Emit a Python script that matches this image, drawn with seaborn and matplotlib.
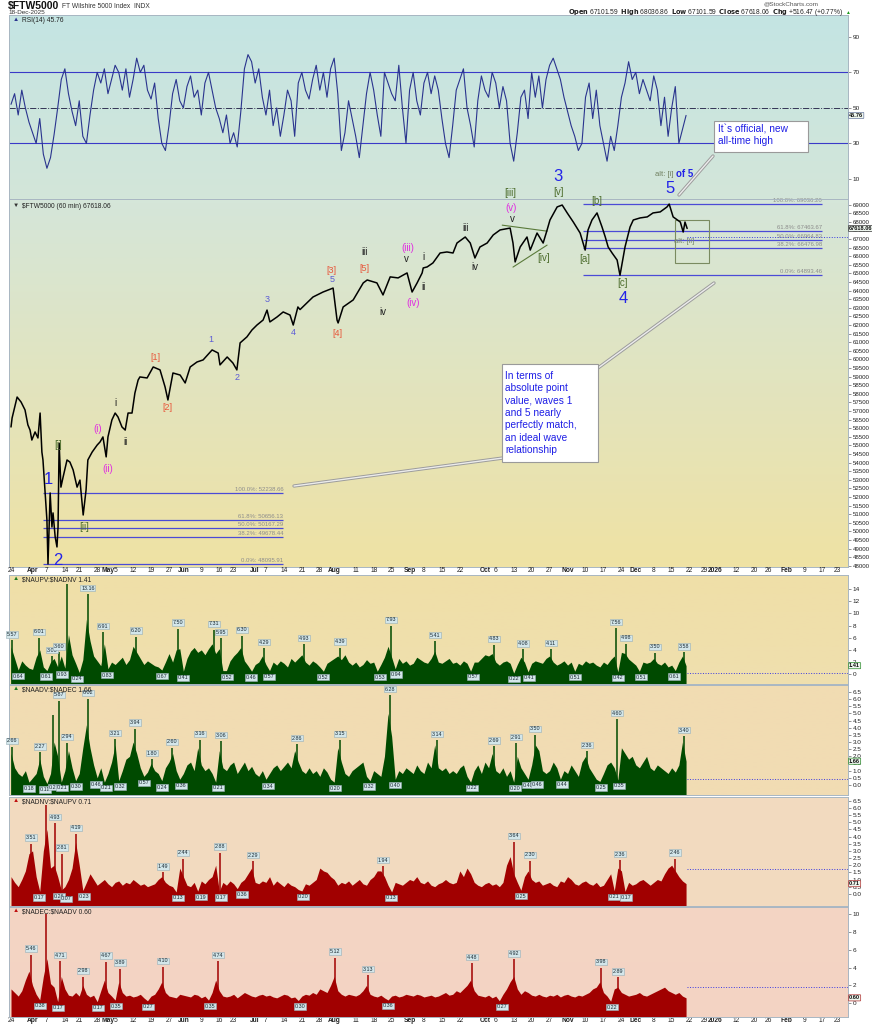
import numpy as np
import pandas as pd
import seaborn as sns
import matplotlib.pyplot as plt
from matplotlib.colors import LinearSegmentedColormap
from matplotlib.patches import Rectangle
from matplotlib.lines import Line2D
from matplotlib.ticker import FormatStrFormatter
from matplotlib.transforms import blended_transform_factory

sns.set_style('white')
plt.rcParams['font.family'] = ['Liberation Sans', 'DejaVu Sans']

# ---------------- data (x = trading day, 0 = 24 Mar 2025) ----------------
holidays = ['2025-04-18', '2025-05-26', '2025-06-19', '2025-07-04', '2025-09-01',
            '2025-11-27', '2025-12-25', '2026-01-01', '2026-01-19', '2026-02-16']

px_day = [0.0, 0.3, 1.7, 2.8, 3.9, 4.7, 5.3, 5.8, 6.7, 7.5,
          8.1, 8.6, 8.9, 9.5, 10.0, 10.3, 10.9, 11.4, 11.7, 12.3,
          12.8, 13.1, 13.4, 13.9, 14.5, 15.6, 16.4, 17.3, 18.4, 19.2,
          20.1, 20.9, 21.4, 22.6, 24.0, 24.8, 25.6, 26.5, 27.0, 28.1,
          29.0, 29.8, 30.9, 31.8, 32.6, 33.7, 34.5, 35.4, 35.9, 37.9,
          39.6, 41.5, 42.9, 43.7, 45.1, 47.1, 48.5, 49.9, 51.8, 53.5,
          56.0, 57.7, 58.2, 60.2, 61.8, 62.9, 63.8, 65.7, 67.1, 68.5,
          70.2, 71.3, 72.1, 74.1, 75.8, 77.7, 78.6, 79.9, 80.5, 84.1,
          86.9, 89.7, 90.8, 91.1, 92.5, 95.3, 98.1, 99.2, 101.9, 103.6,
          105.6, 107.8, 110.3, 111.7, 113.1, 114.5, 114.8, 115.9, 117.5, 119.5,
          121.4, 123.1, 124.2, 126.5, 127.9, 129.2, 130.6, 132.6, 134.3, 136.2,
          139.0, 139.8, 140.4, 141.8, 143.7, 144.6, 146.5, 148.2, 149.3, 150.1,
          152.1, 153.5, 154.9, 156.6, 158.5, 159.9, 160.7, 161.8, 163.2, 164.6,
          165.5, 166.3, 167.4, 168.8, 169.6, 171.0, 172.4, 173.3, 175.2, 177.2,
          178.8, 180.8, 182.7, 183.3, 184.4, 186.4, 187.2, 187.7, 188.3]
px_val = [56070, 56590, 57810, 57520, 57060, 56190, 55890, 55310, 55780, 55430,
          56880, 54610, 54150, 52230, 50660, 48100, 52230, 50250, 51070, 49670,
          49090, 50250, 55130, 52570, 53150, 54150, 54030, 53570, 52570, 52980,
          50950, 52400, 54150, 54610, 55020, 55200, 55490, 54330, 55490, 56480,
          56880, 56650, 56070, 55890, 56880, 56880, 58040, 58800, 58980, 58920,
          59560, 59390, 58400, 57640, 59210, 59090, 58630, 59560, 59850, 59970,
          60550, 60370, 59680, 60140, 59790, 59390, 60960, 61310, 61710, 62000,
          62290, 62870, 62180, 62470, 62760, 62580, 62000, 63050, 62900, 63630,
          63920, 64150, 62290, 62120, 63050, 63460, 64450, 64620, 64450, 63750,
          64800, 64740, 65030, 63920, 64450, 65030, 65320, 65380, 65610, 66190,
          66250, 66190, 66770, 67120, 66770, 65900, 66540, 66770, 67240, 67530,
          67640, 66770, 65670, 66540, 67120, 66360, 67350, 66770, 67530, 68110,
          68870, 68980, 68520, 67990, 67350, 66360, 67530, 68110, 68520, 67700,
          67120, 66540, 66190, 65780, 64893, 66540, 67700, 68110, 68230, 68290,
          68520, 68580, 68870, 69036, 68290, 67990, 67410, 67990, 67618]

rsi_vals = [52, 58, 46, 60, 50, 42, 36, 30, 44, 24,
            16, 22, 35, 50, 66, 72, 58, 48, 40, 54,
            34, 30, 46, 60, 70, 64, 72, 58, 66, 74,
            70, 60, 72, 56, 66, 78, 70, 74, 60, 55,
            64, 44, 30, 26, 40, 58, 66, 54, 50, 62,
            68, 56, 60, 46, 64, 70, 60, 50, 44, 36,
            46, 30, 36, 28, 48, 72, 80, 76, 64, 72,
            56, 46, 60, 40, 50, 34, 46, 60, 54, 34,
            64, 70, 60, 55, 66, 74, 60, 70, 56, 72,
            78, 58, 26, 36, 54, 44, 34, 22, 40, 58,
            70, 60, 46, 34, 70, 64, 58, 54, 74, 50,
            30, 60, 70, 54, 46, 64, 70, 58, 68, 60,
            44, 30, 22, 40, 60, 66, 72, 50, 40, 28,
            54, 68, 60, 56, 70, 64, 50, 62, 54, 30,
            20, 36, 56, 60, 44, 70, 56, 68, 50, 66,
            74, 78, 72, 66, 56, 48, 40, 34, 26, 30,
            56, 64, 44, 60, 40, 30, 20, 34, 26, 40,
            56, 64, 76, 66, 70, 58, 66, 60, 54, 68,
            60, 40, 56, 34, 50, 62, 30, 38, 45.76]

fib_pct = ['100.0%', '61.8%', '50.0%', '38.2%', '0.0%']
fib_low = [52238.66, 50656.13, 50167.29, 49678.44, 48095.91]
fib_high = [69036.20, 67463.67, 66964.83, 66476.98, 64893.46]

# $NAUPV:$NADNV
upv_vals = [4.5, 2.6, 0.7, 2.2, 1.5, 1.0, 0.8, 2.8, 4.0, 1.2,
            0.6, 2.0, 2.6, 1.2, 3.0, 1.0, 6.5, 3.2, 1.8, 0.3,
            2.4, 9.0, 5.5, 3.0, 2.2, 1.4, 5.0, 0.9, 2.0, 1.6,
            2.2, 2.8, 1.6, 2.4, 4.6, 3.6, 2.6, 1.6, 2.2, 1.8,
            1.4, 1.2, 0.7, 2.0, 3.4, 2.0, 4.0, 4.2, 0.5, 2.6,
            3.8, 4.4, 3.6, 4.0, 3.2, 4.2, 5.0, 3.4, 4.2, 0.6,
            0.6, 2.2, 3.0, 3.6, 4.4, 2.2, 1.4, 0.5, 1.6, 2.0,
            3.0, 1.6, 0.6, 2.0, 1.5, 2.2, 1.8, 1.2, 2.6, 2.0,
            2.6, 3.2, 2.0, 1.5, 2.2, 1.8, 1.2, 0.5, 1.8, 2.2,
            2.6, 3.0, 2.4, 3.2, 2.0, 1.5, 2.0, 1.2, 1.6, 2.4,
            1.8, 2.0, 0.5, 1.6, 2.8, 4.6, 2.8, 0.9, 2.6, 1.8,
            2.2, 1.5, 1.8, 2.8, 2.4, 2.0, 1.8, 2.6, 3.8, 2.0,
            1.8, 2.2, 2.6, 1.8, 2.0, 1.5, 2.2, 1.8, 0.5, 2.0,
            2.0, 2.6, 3.2, 3.0, 3.4, 2.0, 1.5, 2.0, 2.2, 1.8,
            0.2, 1.6, 2.8, 2.0, 0.4, 1.8, 2.2, 2.0, 1.8, 2.6,
            3.0, 2.0, 1.5, 1.8, 2.2, 1.5, 2.0, 0.5, 1.8, 1.5,
            2.2, 1.8, 2.0, 1.5, 1.2, 2.0, 1.6, 2.4, 3.0, 0.4,
            3.6, 3.4, 2.5, 2.0, 1.5, 0.5, 2.0, 1.8, 2.0, 2.6,
            1.8, 1.5, 2.0, 1.2, 1.5, 0.6, 2.0, 3.0, 1.4]
upv_pk_day = [0.3, 7.8, 11.4, 13.4, 21.4, 25.6, 34.8, 46.5, 56.5, 58.5, 64.3, 70.5,
              81.6, 91.6, 105.8, 118.1, 134.5, 142.6, 150.4, 168.5, 171.3, 179.4, 187.5]
upv_pk_val = [5.57, 6.01, 3.00, 3.60, 13.16, 6.91, 6.20, 7.50, 7.31, 5.95, 6.30, 4.29,
              4.93, 4.39, 7.93, 5.41, 4.83, 4.08, 4.11, 7.56, 4.98, 3.50, 3.58]
upv_tr_day = [1.9, 9.7, 14.2, 18.4, 26.7, 42.1, 47.9, 60.2, 66.9, 71.9, 86.9, 102.8,
              107.2, 128.7, 140.1, 144.3, 157.1, 169.1, 175.5, 184.7]
upv_tr_val = [0.64, 0.61, 0.93, 0.24, 0.83, 0.67, 0.41, 0.52, 0.46, 0.57, 0.52, 0.53,
              0.94, 0.57, 0.22, 0.41, 0.51, 0.42, 0.51, 0.61]
upv_spike_day = [15.6]
upv_spike_val = [14.8]

# $NAADV:$NADEC
adv_vals = [2.2, 1.2, 0.8, 0.6, 1.0, 0.2, 0.5, 0.8, 1.8, 0.6,
            0.1, 0.8, 3.0, 2.0, 0.2, 1.0, 2.4, 1.2, 0.3, 0.8,
            2.6, 4.2, 2.6, 1.4, 0.5, 1.2, 0.2, 0.8, 1.6, 2.8,
            0.3, 1.0, 1.8, 2.0, 3.0, 2.2, 1.2, 0.6, 0.9, 1.5,
            1.0, 0.8, 0.3, 1.2, 1.6, 2.2, 1.0, 0.4, 0.8, 1.4,
            1.6, 1.0, 2.6, 1.4, 1.0, 1.2, 0.8, 0.2, 2.4, 1.2,
            1.0, 1.4, 1.6, 0.8, 1.2, 1.6, 1.0, 1.3, 0.8, 0.6,
            1.0, 0.4, 0.8, 1.2, 1.4, 1.0, 1.3, 1.6, 1.2, 2.4,
            1.6, 1.0, 0.8, 1.2, 0.8, 1.0, 0.6, 1.2, 0.9, 0.4,
            0.2, 2.6, 1.6, 0.8, 0.6, 1.0, 1.2, 1.4, 1.6, 0.6,
            0.3, 1.0, 0.8, 0.6, 2.0, 5.0, 3.4, 0.4, 1.0, 0.8,
            1.2, 1.0, 0.8, 1.4, 1.0, 0.8, 1.6, 1.2, 2.8, 1.2,
            1.0, 1.2, 0.8, 1.0, 0.8, 1.2, 1.4, 0.6, 0.2, 1.0,
            1.4, 0.8, 1.6, 1.2, 2.2, 1.0, 0.8, 1.2, 0.6, 1.0,
            0.2, 2.0, 1.2, 0.8, 0.4, 1.4, 2.8, 2.4, 1.0, 0.8,
            1.0, 1.6, 1.2, 0.4, 1.0, 0.8, 1.4, 1.0, 0.6, 1.6,
            2.0, 1.2, 0.8, 0.4, 0.25, 0.8, 1.4, 1.6, 1.2, 0.35,
            2.6, 2.2, 1.8, 2.0, 1.4, 1.2, 1.6, 2.0, 1.2, 1.0,
            1.4, 1.2, 1.0, 0.8, 1.2, 0.9, 1.4, 3.0, 1.66]
adv_pk_day = [0.3, 8.1, 13.4, 15.6, 21.4, 29.0, 34.5, 39.3, 44.8, 52.6, 58.5, 79.7,
              91.6, 105.6, 118.7, 134.5, 140.7, 146.0, 160.4, 168.8, 187.5]
adv_pk_val = [2.66, 2.27, 5.87, 2.94, 6.02, 3.21, 3.94, 1.80, 2.60, 3.16, 3.06, 2.86,
              3.15, 6.28, 3.14, 2.69, 2.91, 3.50, 2.36, 4.60, 3.40]
adv_tr_day = [5.0, 9.5, 12.0, 14.2, 18.1, 23.7, 26.5, 30.4, 37.0, 42.1, 47.4, 57.7,
              71.6, 90.3, 99.7, 107.0, 128.4, 140.4, 144.0, 146.5, 153.5, 164.3, 169.4]
adv_tr_val = [0.18, 0.11, 0.27, 0.21, 0.30, 0.46, 0.21, 0.32, 0.57, 0.24, 0.36, 0.21,
              0.34, 0.20, 0.32, 0.40, 0.22, 0.20, 0.40, 0.46, 0.44, 0.25, 0.35]
adv_spike_day = [11.7]
adv_spike_val = [4.9]

# $NADNV:$NAUPV
dnv_vals = [1.2, 0.8, 0.5, 1.0, 1.6, 2.8, 3.0, 1.2, 0.17, 3.0,
            4.5, 1.8, 2.0, 1.2, 0.26, 0.5, 1.0, 1.8, 3.6, 2.0,
            0.23, 0.8, 1.4, 1.0, 0.6, 0.8, 1.0, 0.7, 0.5, 0.8,
            0.9, 0.6, 0.8, 0.7, 1.0, 0.8, 0.6, 0.7, 0.5, 0.6,
            0.7, 1.0, 1.2, 0.8, 0.6, 0.5, 0.13, 1.8, 1.2, 0.6,
            0.5, 0.8, 0.19, 0.9, 0.7, 1.0, 1.2, 2.0, 0.17, 0.8,
            0.6, 0.9, 0.7, 0.36, 0.8, 1.0, 1.4, 1.8, 0.8, 0.7,
            0.9, 0.8, 1.2, 0.6, 0.9, 0.7, 0.5, 0.8, 0.6, 0.5,
            0.3, 0.20, 0.7, 0.6, 0.8, 1.0, 1.8, 1.6, 1.5, 1.2,
            1.0, 0.6, 0.8, 0.7, 0.9, 0.6, 0.8, 1.0, 0.7, 0.6,
            1.0, 1.2, 1.6, 1.6, 1.2, 0.6, 0.13, 0.8, 0.7, 0.6,
            0.8, 1.0, 0.9, 1.2, 0.8, 0.7, 0.9, 0.6, 0.5, 0.7,
            0.8, 1.0, 0.8, 0.7, 0.8, 1.6, 1.2, 1.8, 1.4, 0.8,
            0.6, 0.5, 0.7, 0.8, 0.6, 0.7, 0.5, 0.8, 2.0, 2.6,
            1.4, 0.8, 0.25, 1.2, 1.6, 1.0, 0.8, 0.9, 0.6, 0.7,
            0.8, 0.6, 0.5, 0.9, 0.8, 1.2, 1.0, 0.7, 0.6, 0.8,
            0.9, 0.7, 0.6, 0.8, 0.5, 0.6, 1.0, 1.4, 0.21, 1.8,
            1.6, 0.17, 0.8, 0.6, 0.7, 0.9, 1.0, 0.8, 0.6, 0.8,
            1.0, 0.9, 1.4, 1.8, 2.0, 1.6, 1.2, 0.9, 0.71]
dnv_pk_day = [5.6, 12.3, 14.2, 18.1, 42.3, 47.9, 58.2, 67.4, 103.6, 140.1, 144.6, 169.6, 185.0]
dnv_pk_val = [3.51, 4.93, 2.81, 4.19, 1.49, 2.44, 2.88, 2.29, 1.94, 3.64, 2.30, 2.36, 2.46]
dnv_tr_day = [7.8, 13.4, 15.3, 20.3, 46.5, 52.9, 58.5, 64.3, 81.3, 105.8, 142.1, 168.0, 171.3]
dnv_tr_val = [0.17, 0.26, 0.07, 0.23, 0.13, 0.19, 0.17, 0.36, 0.20, 0.13, 0.25, 0.21, 0.17]
dnv_spike_day = [9.7]
dnv_spike_val = [6.2]

# $NADEC:$NAADV
dec_vals = [1.6, 1.2, 0.8, 1.4, 2.6, 3.6, 2.0, 1.0, 0.38, 3.0,
            5.0, 2.2, 1.8, 0.17, 3.0, 1.6, 0.9, 0.8, 1.2, 0.8,
            2.0, 1.0, 0.7, 0.9, 0.17, 1.4, 2.6, 1.2, 0.8, 0.35,
            2.4, 1.2, 0.8, 0.9, 0.7, 0.8, 1.0, 0.6, 0.27, 0.8,
            1.0, 1.6, 2.4, 1.2, 0.8, 0.7, 0.6, 1.0, 0.9, 0.8,
            0.7, 1.0, 0.9, 0.6, 0.8, 0.35, 1.2, 2.6, 1.4, 0.8,
            0.7, 0.8, 1.0, 0.6, 0.9, 1.2, 1.0, 0.8, 0.7, 0.9,
            1.0, 0.8, 0.9, 0.7, 0.6, 0.8, 1.0, 0.9, 0.6, 0.7,
            0.30, 0.8, 1.0, 0.9, 1.2, 1.0, 1.6, 1.4, 1.2, 2.0,
            3.0, 1.4, 1.0, 0.8, 1.0, 0.9, 0.8, 1.0, 1.4, 2.0,
            1.0, 0.8, 0.7, 0.9, 0.6, 0.36, 0.8, 0.9, 0.7, 0.8,
            1.0, 0.9, 0.8, 1.0, 0.9, 0.7, 0.8, 0.9, 0.7, 0.8,
            1.0, 1.2, 0.9, 1.0, 1.4, 1.2, 1.6, 2.0, 2.6, 1.4,
            0.9, 0.8, 0.7, 0.9, 0.6, 0.8, 0.27, 1.0, 1.6, 2.4,
            3.0, 1.6, 1.0, 1.4, 1.2, 0.9, 0.8, 1.0, 0.8, 0.7,
            0.9, 0.8, 1.0, 0.7, 0.9, 1.0, 0.8, 0.7, 0.9, 0.8,
            1.0, 1.2, 1.6, 1.8, 2.4, 1.2, 0.8, 0.22, 1.6, 1.8,
            1.2, 1.0, 0.8, 0.9, 1.0, 1.2, 0.9, 0.8, 1.0, 1.2,
            1.4, 1.6, 1.8, 1.4, 1.2, 1.0, 1.2, 0.8, 0.60]
dec_pk_day = [5.6, 13.6, 20.1, 26.5, 30.4, 42.3, 57.7, 90.3, 99.4, 128.4, 140.1, 164.3, 169.1]
dec_pk_val = [5.46, 4.71, 2.98, 4.67, 3.89, 4.10, 4.74, 5.12, 3.13, 4.48, 4.92, 3.98, 2.89]
dec_tr_day = [8.1, 13.1, 24.2, 29.2, 38.2, 55.4, 80.5, 105.0, 136.8, 167.4]
dec_tr_val = [0.38, 0.17, 0.17, 0.35, 0.27, 0.35, 0.30, 0.36, 0.27, 0.22]
dec_spike_day = [9.7]
dec_spike_val = [10.0]

# ---------------- layout helpers ----------------
W, H = 872, 1024
XMIN, XMAX = -0.56, 233.1
fig = plt.figure(figsize=(W / 100, H / 100), dpi=100)
fig.patch.set_facecolor('white')


def panel(top, bottom, c_top, c_bot, ylim):
    ax = fig.add_axes([9 / W, 1 - bottom / H, 839 / W, (bottom - top) / H])
    cmap = LinearSegmentedColormap.from_list('bg', [c_bot, c_top])
    ax.imshow(np.linspace(0, 1, 64).reshape(-1, 1), cmap=cmap, origin='lower', aspect='auto',
              extent=[0, 1, 0, 1], transform=ax.transAxes, zorder=0, interpolation='bilinear')
    ax.set_xlim(XMIN, XMAX)
    ax.set_ylim(*ylim)
    ax.set_xticks([])
    ax.yaxis.tick_right()
    ax.tick_params(axis='y', labelsize=4.6, length=2, width=0.5, pad=1.5,
                   colors='#666666', labelcolor='#222222')
    for s in ax.spines.values():
        s.set_color('#a8b6c2')
        s.set_linewidth(0.7)
    return ax


def header(ax, txt, icon, icon_color):
    ax.text(0.004, 0.99, icon, transform=ax.transAxes, ha='left', va='top',
            fontsize=4.5, color=icon_color, zorder=6)
    ax.text(0.016, 0.99, txt, transform=ax.transAxes, ha='left', va='top',
            fontsize=4.8, color='#222222', zorder=6)


def value_tag(ax, v, txt, ec):
    ax.annotate(txt, xy=(1, v), xycoords=blended_transform_factory(ax.transAxes, ax.transData),
                xytext=(0.8, 0), textcoords='offset points', ha='left', va='center',
                fontsize=4.1, fontweight='bold', color='#111111', zorder=7,
                bbox=dict(boxstyle='round,pad=0.1', fc='#eef6ee', ec=ec, lw=0.5),
                annotation_clip=False)


def ratio_panel(ax, vals, pk_d, pk_v, tr_d, tr_v, sp_d, sp_v, color, lo):
    days = np.arange(len(vals))
    ax.fill_between(days, vals, lo, color=color, lw=0, zorder=2)
    ax.vlines(pk_d + sp_d, lo, pk_v + sp_v, color=color, lw=1.1, zorder=2)
    for d, v in zip(pk_d, pk_v):
        ax.annotate(f'{v:.2f}', (d, v), xytext=(0, 2.5), textcoords='offset points',
                    ha='center', va='bottom', fontsize=3.9, color='#1b2a33', zorder=5,
                    bbox=dict(boxstyle='square,pad=0.12', fc='#d3e6ea', ec='#98aeb6', lw=0.4),
                    annotation_clip=False)
    for d, v in zip(tr_d, tr_v):
        ax.annotate(f'{v:.2f}', (d, v), xytext=(0, -2.5), textcoords='offset points',
                    ha='center', va='top', fontsize=3.9, color='#1b2a33', zorder=5,
                    bbox=dict(boxstyle='square,pad=0.12', fc='#d3e6ea', ec='#98aeb6', lw=0.4),
                    annotation_clip=False)


# ---------------- RSI panel ----------------
ax_rsi = panel(15, 199, '#c4e4e3', '#d3e6d9', (-1.3, 102.3))
sns.lineplot(x=np.arange(len(rsi_vals)), y=rsi_vals, ax=ax_rsi, color='#2a348e',
             lw=0.8, estimator=None, zorder=3)
ax_rsi.axhline(70, color='#3a3ac8', lw=0.8, zorder=2)
ax_rsi.axhline(30, color='#3a3ac8', lw=0.8, zorder=2)
ax_rsi.axhline(50, color='#333355', lw=0.7, ls='-.', zorder=2)
ax_rsi.set_yticks([10, 30, 50, 70, 90])
ax_rsi.set_ylabel('')
header(ax_rsi, 'RSI(14) 45.76', '\u25B2', '#2a348e')
value_tag(ax_rsi, 45.76, '45.76', '#6a7aa0')

# ---------------- price panel ----------------
ax_px = panel(199, 567, '#d5e6d9', '#efe2a4', (47924, 69331))
ax_px.set_yticks(np.arange(48000, 69001, 500))
ax_px.set_yticklabels([str(v) for v in range(48000, 69001, 500)])
ax_px.tick_params(axis='y', labelsize=4.4)

for levels, x0, x1 in [(fib_low, 8.9, 75.8), (fib_high, 159.3, 225.9)]:
    for pct, lv in zip(fib_pct, levels):
        ax_px.hlines(lv, x0, x1, color='#4b4bd6', lw=0.9, zorder=2)
        ax_px.text(x1, lv + 60, f'{pct}: {lv:.2f}', ha='right', va='bottom',
                   fontsize=4.3, color='#8c8c8c', zorder=2)

sns.lineplot(x=px_day, y=px_val, ax=ax_px, color='black', lw=1.1, estimator=None, zorder=4)
ax_px.set_ylabel('')
ax_px.hlines(67100, px_day[-1], XMAX, color='#3b3be0', lw=0.7, ls=':', zorder=3)

# triangle of wave [iv]
ax_px.plot([136.8, 149.3], [67810, 67460], color='#5a7a3a', lw=0.8, zorder=3)
ax_px.plot([139.8, 149.3], [65370, 66650], color='#5a7a3a', lw=0.8, zorder=3)
ax_px.add_patch(Rectangle((185.0, 65600), 9.4, 2510, fill=False, ec='#7a8a60', lw=0.8, zorder=3))

BIG, SMB, OLV, MAG, BLK, SAL = '#2323e8', '#5c5cd6', '#4d6d2d', '#e02ee0', '#222222', '#e8553a'
waves = [('1', 10.3, 52985, BIG, 12), ('2', 13.1, 48330, BIG, 12),
         ('[i]', 13.1, 55020, OLV, 7), ('[ii]', 20.3, 50250, OLV, 7),
         ('(i)', 24.2, 55950, MAG, 7), ('(ii)', 27.0, 53620, MAG, 7),
         ('i', 29.2, 57460, BLK, 7), ('ii', 32.0, 55200, BLK, 7),
         ('[1]', 40.1, 60130, SAL, 6.5), ('[2]', 43.7, 57230, SAL, 6.5),
         ('1', 55.7, 61180, SMB, 6.5), ('2', 63.0, 58920, SMB, 6.5),
         ('3', 71.3, 63510, SMB, 6.5), ('4', 78.6, 61590, SMB, 6.5),
         ('[3]', 89.1, 65200, SAL, 6.5), ('5', 89.4, 64620, SMB, 6.5),
         ('[4]', 90.8, 61530, SAL, 6.5), ('[5]', 98.3, 65310, SAL, 6.5),
         ('iii', 98.6, 66240, BLK, 7), ('iv', 103.6, 62760, BLK, 7),
         ('(iii)', 110.6, 66470, MAG, 7), ('v', 110.0, 65830, BLK, 7),
         ('(iv)', 112.0, 63270, MAG, 7), ('i', 114.8, 65950, BLK, 7),
         ('ii', 115.0, 64200, BLK, 7), ('iii', 126.7, 67640, BLK, 7),
         ('iv', 129.2, 65370, BLK, 7), ('[iii]', 139.0, 69670, OLV, 7),
         ('(v)', 139.3, 68800, MAG, 7), ('v', 139.6, 68160, BLK, 7),
         ('[iv]', 148.2, 65890, OLV, 7), ('3', 152.4, 70660, BIG, 12),
         ('[v]', 152.4, 69730, OLV, 7), ('[a]', 159.9, 65830, OLV, 7),
         ('[b]', 163.2, 69220, OLV, 7), ('[c]', 170.2, 64430, OLV, 7),
         ('4', 170.5, 63560, BIG, 12), ('5', 183.6, 69970, BIG, 12),
         ('alt: [ii]', 187.4, 66880, '#7a8a6a', 5.5)]
for txt, d, p, c, s in waves:
    ax_px.text(d, p, txt, color=c, fontsize=s, ha='center', va='center', zorder=5, clip_on=False)
ax_px.text(184.5, 70780, 'alt: [i]', color='#6f7f5f', fontsize=5.5, ha='right', va='center', clip_on=False)
ax_px.text(185.3, 70780, 'of 5', color=BIG, fontsize=7, fontweight='bold', ha='left', va='center', clip_on=False)

header(ax_px, '\\$FTW5000 (60 min) 67618.06', '\u25BC', '#333333')
value_tag(ax_px, 67618.06, '67618.06', '#333333')

# ---------------- breadth ratio panels ----------------
ax3 = panel(575, 684, '#efdfa8', '#f0dfae', (-1.6, 16.3))
ratio_panel(ax3, upv_vals, upv_pk_day, upv_pk_val, upv_tr_day, upv_tr_val,
            upv_spike_day, upv_spike_val, '#004a00', -1.6)
ax3.set_yticks(np.arange(0, 15, 2))
ax3.hlines(0.25, 188.3, XMAX, color='#3b3be0', lw=0.7, ls=':', zorder=3)
header(ax3, '\\$NAUPV:\\$NADNV 1.41', '\u25B2', '#1f7a1f')
value_tag(ax3, 1.41, '1.41', '#2a8a2a')

ax4 = panel(685, 795, '#f1dcb2', '#f1dcb4', (-0.70, 6.98))
ratio_panel(ax4, adv_vals, adv_pk_day, adv_pk_val, adv_tr_day, adv_tr_val,
            adv_spike_day, adv_spike_val, '#004a00', -0.70)
ax4.set_yticks(np.arange(0, 6.6, 0.5))
ax4.yaxis.set_major_formatter(FormatStrFormatter('%.1f'))
ax4.hlines(0.42, 188.3, XMAX, color='#3b3be0', lw=0.7, ls=':', zorder=3)
header(ax4, '\\$NAADV:\\$NADEC 1.66', '\u25B2', '#1f7a1f')
value_tag(ax4, 1.66, '1.66', '#2a8a2a')

ax5 = panel(797, 906, '#f2dbbf', '#f3dac0', (-0.85, 6.76))
ratio_panel(ax5, dnv_vals, dnv_pk_day, dnv_pk_val, dnv_tr_day, dnv_tr_val,
            dnv_spike_day, dnv_spike_val, '#a10000', -0.85)
ax5.set_yticks(np.arange(0, 6.6, 0.5))
ax5.yaxis.set_major_formatter(FormatStrFormatter('%.1f'))
ax5.hlines(1.76, 188.3, XMAX, color='#3b3be0', lw=0.7, ls=':', zorder=3)
header(ax5, '\\$NADNV:\\$NAUPV 0.71', '\u25B2', '#c01010')
value_tag(ax5, 0.71, '0.71', '#b03030')

ax6 = panel(907, 1017, '#f3d5c3', '#f4d3c4', (-1.55, 10.8))
ratio_panel(ax6, dec_vals, dec_pk_day, dec_pk_val, dec_tr_day, dec_tr_val,
            dec_spike_day, dec_spike_val, '#a10000', -1.55)
ax6.set_yticks(np.arange(0, 11, 2))
ax6.hlines(1.8, 188.3, XMAX, color='#3b3be0', lw=0.7, ls=':', zorder=3)
header(ax6, '\\$NADEC:\\$NAADV 0.60', '\u25B2', '#c01010')
value_tag(ax6, 0.60, '0.60', '#b03030')

# ---------------- date axis rows ----------------
cal = pd.bdate_range('2025-03-24', '2026-02-27')
cal = cal[~cal.isin(pd.to_datetime(holidays))]
ticks = []
for i, dt in enumerate(cal):
    if i > 0 and dt.month != cal[i - 1].month:
        ticks.append((i, '2026' if dt.month == 1 else dt.strftime('%b'), True))
    elif i == 0 or dt.weekday() < cal[i - 1].weekday():
        ticks.append((i, str(dt.day), False))
months = [t[0] for t in ticks if t[2]]
ticks = [t for t in ticks if t[2] or not any(0 < m - t[0] <= 2 or 0 < t[0] - m <= 1 for m in months)]
tr = blended_transform_factory(ax_px.transData, fig.transFigure)
for ypix in (571, 1021):
    for i, lab, bold in ticks:
        if i <= XMAX:
            ax_px.text(i, 1 - ypix / H, lab, transform=tr, ha='center', va='center', fontsize=4.8,
                       fontweight='bold' if bold else 'normal', color='#222222', clip_on=False)

# ---------------- title block ----------------
fig.text(8 / W, 1 - 6 / H, '\\$FTW5000', fontsize=7.5, fontweight='bold', va='center', color='#111111')
fig.text(62 / W, 1 - 6 / H, 'FT Wilshire 5000 Index  INDX', fontsize=4.8, va='center', color='#333333')
fig.text(8 / W, 1 - 13 / H, '18-Dec-2025', fontsize=4.6, va='center', color='#333333')
fig.text(818 / W, 1 - 4 / H, '@StockCharts.com', fontsize=4.6, va='center', ha='right', color='#555555')
fig.text(843 / W, 1 - 12.5 / H,
         r'$\bf{Open}$ 67101.59  $\bf{High}$ 68036.86  $\bf{Low}$ 67101.59  '
         r'$\bf{Close}$ 67618.06  $\bf{Chg}$ +516.47 (+0.77%)',
         fontsize=4.8, va='center', ha='right', color='#222222')
fig.text(845 / W, 1 - 12.5 / H, '\u25B2', fontsize=3.5, va='center', ha='left', color='#1a9a1a')

# ---------------- callouts ----------------
def fig_line(p0, p1):
    xs = [p0[0] / W, p1[0] / W]
    ys = [1 - p0[1] / H, 1 - p1[1] / H]
    fig.add_artist(Line2D(xs, ys, color='#9c9c9c', lw=2.4, transform=fig.transFigure, zorder=8))
    fig.add_artist(Line2D(xs, ys, color='#ececec', lw=1.0, transform=fig.transFigure, zorder=8))


fig_line((713, 156), (679, 195))
fig_line((598, 368), (714, 283))
fig_line((503, 458), (294, 486))
fig.add_artist(Rectangle((714 / W, 1 - 152 / H), 94 / W, 31 / H, transform=fig.transFigure,
                         fc='white', ec='#9a9a9a', lw=0.8, zorder=9))
fig.text(718 / W, 1 - 135 / H, 'It`s official, new\nall-time high', fontsize=7.3, color='#1f1fe6',
         va='center', ha='left', linespacing=1.25, zorder=10)
fig.add_artist(Rectangle((502 / W, 1 - 462 / H), 96 / W, 98 / H, transform=fig.transFigure,
                         fc='white', ec='#9a9a9a', lw=0.8, zorder=9))
fig.text(505 / W, 1 - 413 / H,
         'In terms of\nabsolute point\nvalue, waves 1\nand 5 nearly\nperfectly match,\nan ideal wave\nrelationship',
         fontsize=7.3, color='#1f1fe6', va='center', ha='left', linespacing=1.3, zorder=10)

fig.savefig('out.png', dpi=100)
